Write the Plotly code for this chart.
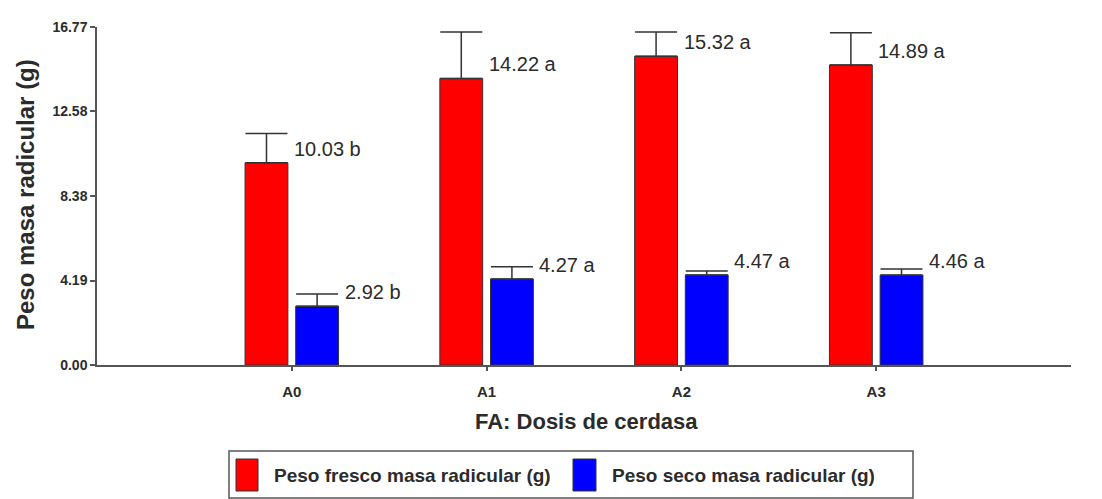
import plotly.graph_objects as go

# Root mass per dose of pig manure (FA factor)
categories = ["A0", "A1", "A2", "A3"]
fresh_weight = [10.03, 14.22, 15.32, 14.89]
fresh_letters = ["b", "a", "a", "a"]
fresh_error = [1.45, 2.3, 1.2, 1.6]
dry_weight = [2.92, 4.27, 4.47, 4.46]
dry_letters = ["b", "a", "a", "a"]
dry_error = [0.6, 0.6, 0.2, 0.3]
y_ticks = [0.00, 4.19, 8.38, 12.58, 16.77]

series_names = ["Peso fresco masa radicular (g)", "Peso seco masa radicular (g)"]
RED = "#ff0000"
BLUE = "#0000ff"
INK = "#2b2b2b"
FONT = "Liberation Sans, Arial, sans-serif"

W, H = 1102, 499
PL, PR, PT, PB = 97, 1071, 27, 365   # plot area in pixels


def px_x(px):
    return (px - PL) / (PR - PL)


def px_y(py):
    return (PB - py) / (PB - PT)


BAR_W = 0.22
OFFSETS = [-0.24, 0.02]

fig = go.Figure()
for name, vals, errs, color, off in [
    (series_names[0], fresh_weight, fresh_error, RED, OFFSETS[0]),
    (series_names[1], dry_weight, dry_error, BLUE, OFFSETS[1]),
]:
    fig.add_trace(go.Bar(
        x=categories, y=vals, name=name,
        width=BAR_W, offset=off,
        marker=dict(color=color, line=dict(color="#333333", width=1)),
        error_y=dict(type="data", symmetric=False, array=errs,
                     arrayminus=[0] * len(errs), color="#333333",
                     thickness=1.5, width=21),
        showlegend=False,
    ))

annotations = []
for i in range(len(categories)):
    for vals, letters, off in [(fresh_weight, fresh_letters, OFFSETS[0]),
                               (dry_weight, dry_letters, OFFSETS[1])]:
        annotations.append(dict(
            x=i + off + BAR_W, y=vals[i], xref="x", yref="y",
            text=f"{vals[i]:.2f} {letters[i]}", showarrow=False,
            xanchor="left", yanchor="middle", xshift=4, yshift=14,
            font=dict(family=FONT, size=20, color=INK),
        ))

# axis titles
annotations.append(dict(
    x=px_x(586), y=px_y(421), xref="paper", yref="paper",
    text="<b>FA: Dosis de cerdasa</b>", showarrow=False,
    xanchor="center", yanchor="middle",
    font=dict(family=FONT, size=22, color=INK)))
annotations.append(dict(
    x=px_x(25), y=px_y(195), xref="paper", yref="paper",
    text="<b>Peso masa radicular (g)</b>", showarrow=False, textangle=-90,
    xanchor="center", yanchor="middle",
    font=dict(family=FONT, size=24, color=INK)))

# legend drawn as boxed swatches with labels
shapes = [dict(type="rect", xref="paper", yref="paper",
               x0=px_x(229), x1=px_x(913), y0=px_y(498), y1=px_y(451),
               line=dict(color="#555555", width=1.5), fillcolor="white")]
for sx0, sx1, tx, color, label in [(236, 258, 272, RED, series_names[0]),
                                   (573, 596, 610, BLUE, series_names[1])]:
    shapes.append(dict(type="rect", xref="paper", yref="paper",
                       x0=px_x(sx0), x1=px_x(sx1), y0=px_y(491), y1=px_y(459),
                       line=dict(color="#333333", width=1), fillcolor=color))
    annotations.append(dict(
        x=px_x(tx), y=px_y(475), xref="paper", yref="paper",
        text=f"<b>{label}</b>", showarrow=False,
        xanchor="left", yanchor="middle",
        font=dict(family=FONT, size=19, color=INK)))

fig.update_layout(
    width=W, height=H,
    margin=dict(l=PL, r=W - PR, t=PT, b=H - PB, autoexpand=False),
    paper_bgcolor="white", plot_bgcolor="white",
    barmode="overlay",
    annotations=annotations, shapes=shapes,
    font=dict(family=FONT, color=INK),
)
fig.update_xaxes(
    type="category", categoryorder="array", categoryarray=categories,
    range=[-1, len(categories)],
    showline=True, linecolor="#555555", linewidth=1.5,
    ticks="outside", ticklen=4, tickcolor="#555555", tickwidth=1.5,
    ticklabelstandoff=8,
    tickfont=dict(family=FONT, size=15, color=INK),
    tickprefix="<b>", ticksuffix="</b>",
    showgrid=False, zeroline=False,
)
fig.update_yaxes(
    range=[0, y_ticks[-1]],
    tickvals=y_ticks, ticktext=[f"<b>{v:.2f}</b>" for v in y_ticks],
    showline=True, linecolor="#555555", linewidth=1.5,
    ticks="outside", ticklen=5, tickcolor="#555555", tickwidth=1.5,
    tickfont=dict(family=FONT, size=14, color=INK),
    showgrid=False, zeroline=False,
)

fig.write_html("out.html")
